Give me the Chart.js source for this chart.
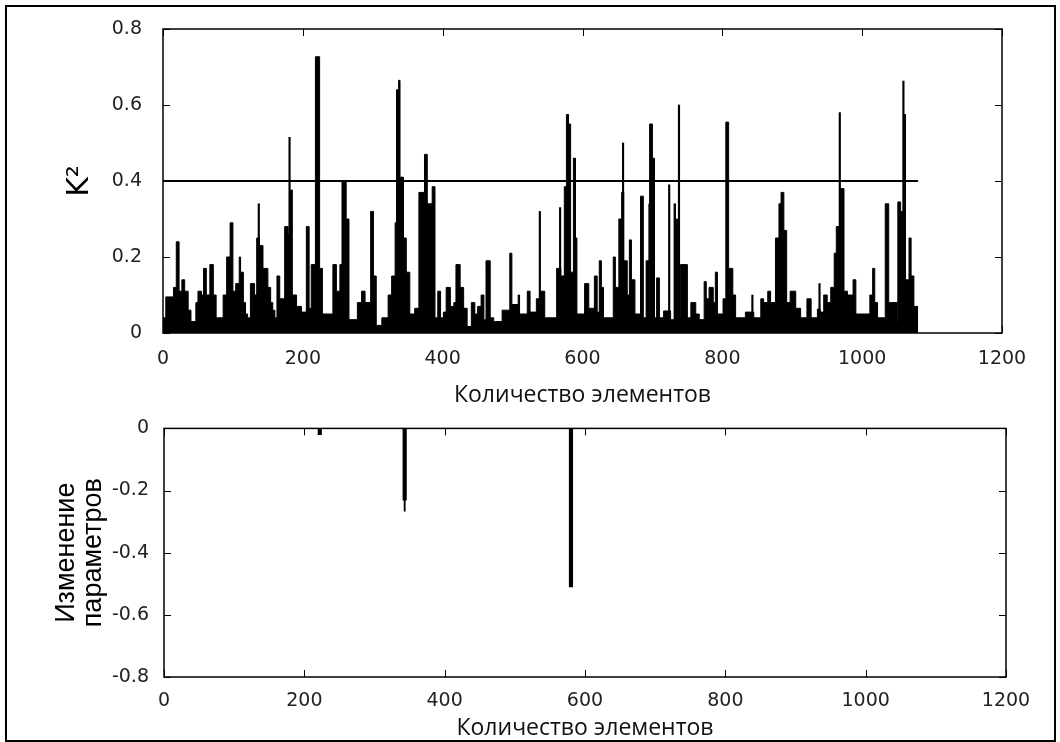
<!DOCTYPE html>
<html lang="ru">
<head>
<meta charset="UTF-8">
<title>K2 и изменение параметров</title>
<script src="https://cdn.jsdelivr.net/npm/chart.js"></script>
<style>
  body { margin: 0; background: #fff; }
  #frame { position: absolute; left: 5px; top: 5px; width: 1047px; height: 733px; border: 2px solid #000; }
  canvas { position: absolute; left: 0; }
  #top { top: 0; }
  #bottom { top: 410px; }
</style>
</head>
<body>
<div id="frame"></div>
<canvas id="top" width="1060" height="410"></canvas>
<canvas id="bottom" width="1060" height="332"></canvas>
<script>
// K^2 per element, read off the picture as steps: element where a level starts, and its value
const segStart = [0, 4, 15, 19, 23, 27, 31, 36, 40, 47, 50, 55, 58, 62, 67, 72, 76, 86, 91, 96,
  100, 104, 109, 111, 115, 118, 121, 125, 131, 134, 138, 143, 150, 154, 157, 160, 163, 167, 174, 179,
  181, 185, 191, 198, 205, 209, 212, 218, 224, 228, 243, 248, 253, 256, 262, 266, 278, 284, 289, 297,
  301, 305, 313, 322, 327, 332, 334, 337, 339, 344, 348, 353, 360, 366, 374, 378, 385, 389, 393, 397,
  401, 405, 411, 416, 419, 425, 430, 435, 441, 446, 450, 455, 459, 462, 468, 473, 485, 496, 499, 508,
  510, 521, 525, 534, 540, 546, 563, 569, 574, 577, 580, 583, 587, 590, 592, 603, 609, 617, 621, 624,
  627, 630, 644, 647, 652, 656, 659, 664, 667, 670, 675, 683, 687, 691, 695, 696, 700, 703, 706, 710,
  716, 726, 731, 733, 736, 740, 750, 755, 762, 767, 774, 777, 781, 787, 790, 793, 801, 805, 809, 815,
  819, 833, 845, 855, 859, 865, 869, 876, 881, 884, 888, 892, 897, 905, 912, 921, 927, 936, 940, 945,
  950, 955, 960, 963, 969, 974, 979, 987, 991, 1011, 1015, 1018, 1022, 1033, 1038, 1050, 1051, 1055, 1060, 1062,
  1067, 1070, 1074];
const segValue = [0.04, 0.095, 0.12, 0.24, 0.11, 0.14, 0.11, 0.06, 0.03, 0.08, 0.11, 0.10, 0.17, 0.10, 0.18, 0.10, 0.04, 0.10, 0.20, 0.29,
  0.11, 0.13, 0.20, 0.16, 0.08, 0.05, 0.04, 0.13, 0.10, 0.25, 0.23, 0.17, 0.12, 0.08, 0.06, 0.04, 0.15, 0.09, 0.28, 0.26,
  0.376, 0.10, 0.07, 0.055, 0.28, 0.065, 0.18, 0.727, 0.17, 0.05, 0.18, 0.11, 0.18, 0.40, 0.30, 0.035, 0.08, 0.11, 0.08, 0.32,
  0.15, 0.02, 0.04, 0.10, 0.15, 0.29, 0.64, 0.665, 0.41, 0.25, 0.16, 0.05, 0.065, 0.37, 0.47, 0.34, 0.385, 0.04, 0.11, 0.04,
  0.055, 0.12, 0.07, 0.08, 0.18, 0.12, 0.065, 0.017, 0.08, 0.05, 0.07, 0.10, 0.035, 0.19, 0.04, 0.03, 0.06, 0.21, 0.075, 0.10,
  0.05, 0.11, 0.055, 0.09, 0.11, 0.04, 0.17, 0.15, 0.385, 0.575, 0.55, 0.16, 0.46, 0.25, 0.05, 0.13, 0.065, 0.15, 0.055, 0.19,
  0.12, 0.04, 0.20, 0.12, 0.30, 0.37, 0.19, 0.10, 0.245, 0.14, 0.05, 0.36, 0.04, 0.19, 0.34, 0.55, 0.46, 0.04, 0.145, 0.04,
  0.058, 0.035, 0.34, 0.30, 0.04, 0.18, 0.04, 0.08, 0.05, 0.035, 0.135, 0.09, 0.12, 0.08, 0.16, 0.05, 0.09, 0.555, 0.17, 0.10,
  0.04, 0.055, 0.04, 0.09, 0.08, 0.11, 0.08, 0.25, 0.34, 0.37, 0.27, 0.08, 0.11, 0.065, 0.04, 0.09, 0.04, 0.063, 0.055, 0.10,
  0.08, 0.12, 0.21, 0.28, 0.38, 0.11, 0.10, 0.14, 0.05, 0.10, 0.17, 0.08, 0.04, 0.34, 0.08, 0.03, 0.345, 0.32, 0.575, 0.14,
  0.25, 0.15, 0.07];
const segEnd = 1080;

// single-element peaks drawn as thin lines
const spikeX = [137, 181, 539, 568, 658, 724, 738, 843, 939, 968, 1059];
const spikeY = [0.34, 0.515, 0.32, 0.33, 0.50, 0.39, 0.60, 0.10, 0.13, 0.58, 0.663];

const threshold = 0.4;

// lower plot: parameter changes
const changeX = [222, 343, 580];
const changeY = [-0.02, -0.231, -0.51];
const tailX = [343];
const tailY = [-0.266];

const xTickStep = 200;
const xMax = 1200;

const tickFont = { family: 'DejaVu Sans', size: 19 };
const fmtY = v => (Math.abs(v) < 1e-9 ? '0' : v.toFixed(1));
const fmtX = v => String(Math.round(v));

// MATLAB style box with ticks pointing inward on all four sides
const insideTicks = {
  id: 'insideTicks',
  afterDatasetsDraw(chart) {
    const { ctx, chartArea: a, scales: { x, y } } = chart;
    ctx.save();
    ctx.strokeStyle = '#000';
    ctx.lineWidth = 1;
    ctx.beginPath();
    x.ticks.forEach(t => {
      const p = Math.round(x.getPixelForValue(t.value)) + 0.5;
      ctx.moveTo(p, a.bottom); ctx.lineTo(p, a.bottom - 7);
      ctx.moveTo(p, a.top); ctx.lineTo(p, a.top + 7);
    });
    y.ticks.forEach(t => {
      const p = Math.round(y.getPixelForValue(t.value)) + 0.5;
      ctx.moveTo(a.left, p); ctx.lineTo(a.left + 7, p);
      ctx.moveTo(a.right, p); ctx.lineTo(a.right - 7, p);
    });
    ctx.stroke();
    ctx.lineWidth = 1.5;
    ctx.strokeRect(a.left, a.top, a.right - a.left, a.bottom - a.top);
    ctx.restore();
  }
};

const stepPoints = segStart.map((s, i) => ({ x: s, y: segValue[i] }));
stepPoints.push({ x: segEnd, y: segValue[segValue.length - 1] });

new Chart(document.getElementById('top'), {
  type: 'bar',
  data: {
    datasets: [
      { type: 'line', data: [{ x: 0, y: threshold }, { x: segEnd, y: threshold }],
        borderColor: '#000', borderWidth: 2, pointRadius: 0, fill: false },
      { type: 'bar', data: spikeX.map((x, i) => ({ x, y: spikeY[i] })),
        backgroundColor: '#000', barThickness: 1.5, grouped: false },
      { type: 'line', data: stepPoints, stepped: true, fill: 'origin',
        backgroundColor: '#000', borderColor: '#000', borderWidth: 1, pointRadius: 0 }
    ]
  },
  options: {
    responsive: false,
    animation: false,
    layout: { padding: { top: 29, right: 58, left: 0, bottom: 0 } },
    plugins: { legend: { display: false }, tooltip: { enabled: false } },
    scales: {
      x: {
        type: 'linear', min: 0, max: xMax, offset: false,
        grid: { display: false }, border: { display: false },
        ticks: { stepSize: xTickStep, padding: 7, color: '#222', font: tickFont, maxRotation: 0, callback: fmtX },
        title: { display: true, text: 'Количество элементов', color: '#111',
          font: { family: 'Open Sans', size: 23 }, padding: { top: 0, bottom: 1 } },
        afterFit: s => { s.height = 77; }
      },
      y: {
        min: 0, max: 0.8,
        grid: { display: false }, border: { display: false },
        ticks: { stepSize: 0.2, padding: 13, color: '#222', font: tickFont, callback: fmtY },
        title: { display: true, text: 'K²', color: '#000',
          font: { family: 'DejaVu Sans', size: 30 }, padding: { top: 62, bottom: 0 } },
        afterFit: s => { s.width = 163; }
      }
    }
  },
  plugins: [insideTicks]
});

new Chart(document.getElementById('bottom'), {
  type: 'bar',
  data: {
    datasets: [
      { data: changeX.map((x, i) => ({ x, y: changeY[i] })), backgroundColor: '#000',
        barThickness: 3.5, grouped: false },
      { data: tailX.map((x, i) => ({ x, y: tailY[i] })), backgroundColor: '#000',
        barThickness: 1.2, grouped: false }
    ]
  },
  options: {
    responsive: false,
    animation: false,
    layout: { padding: { top: 11, right: 54, left: 0, bottom: 0 } },
    plugins: { legend: { display: false }, tooltip: { enabled: false } },
    scales: {
      x: {
        type: 'linear', min: 0, max: xMax, offset: false,
        grid: { display: false }, border: { display: false },
        ticks: { stepSize: xTickStep, padding: 5, color: '#222', font: tickFont, maxRotation: 0, callback: fmtX },
        title: { display: true, text: 'Количество элементов', color: '#111',
          font: { family: 'Open Sans', size: 23 }, padding: { top: 0, bottom: 0 } },
        afterFit: s => { s.height = 65; }
      },
      y: {
        min: -0.8, max: 0,
        grid: { display: false }, border: { display: false },
        ticks: { stepSize: 0.2, padding: 7, color: '#222', font: tickFont, callback: fmtY },
        title: { display: true, text: ['Изменение', 'параметров'], color: '#000',
          font: { family: 'Liberation Sans', size: 27, lineHeight: 1 }, padding: { top: 53, bottom: 0 } },
        afterFit: s => { s.width = 164; }
      }
    }
  },
  plugins: [insideTicks]
});
</script>
</body>
</html>
